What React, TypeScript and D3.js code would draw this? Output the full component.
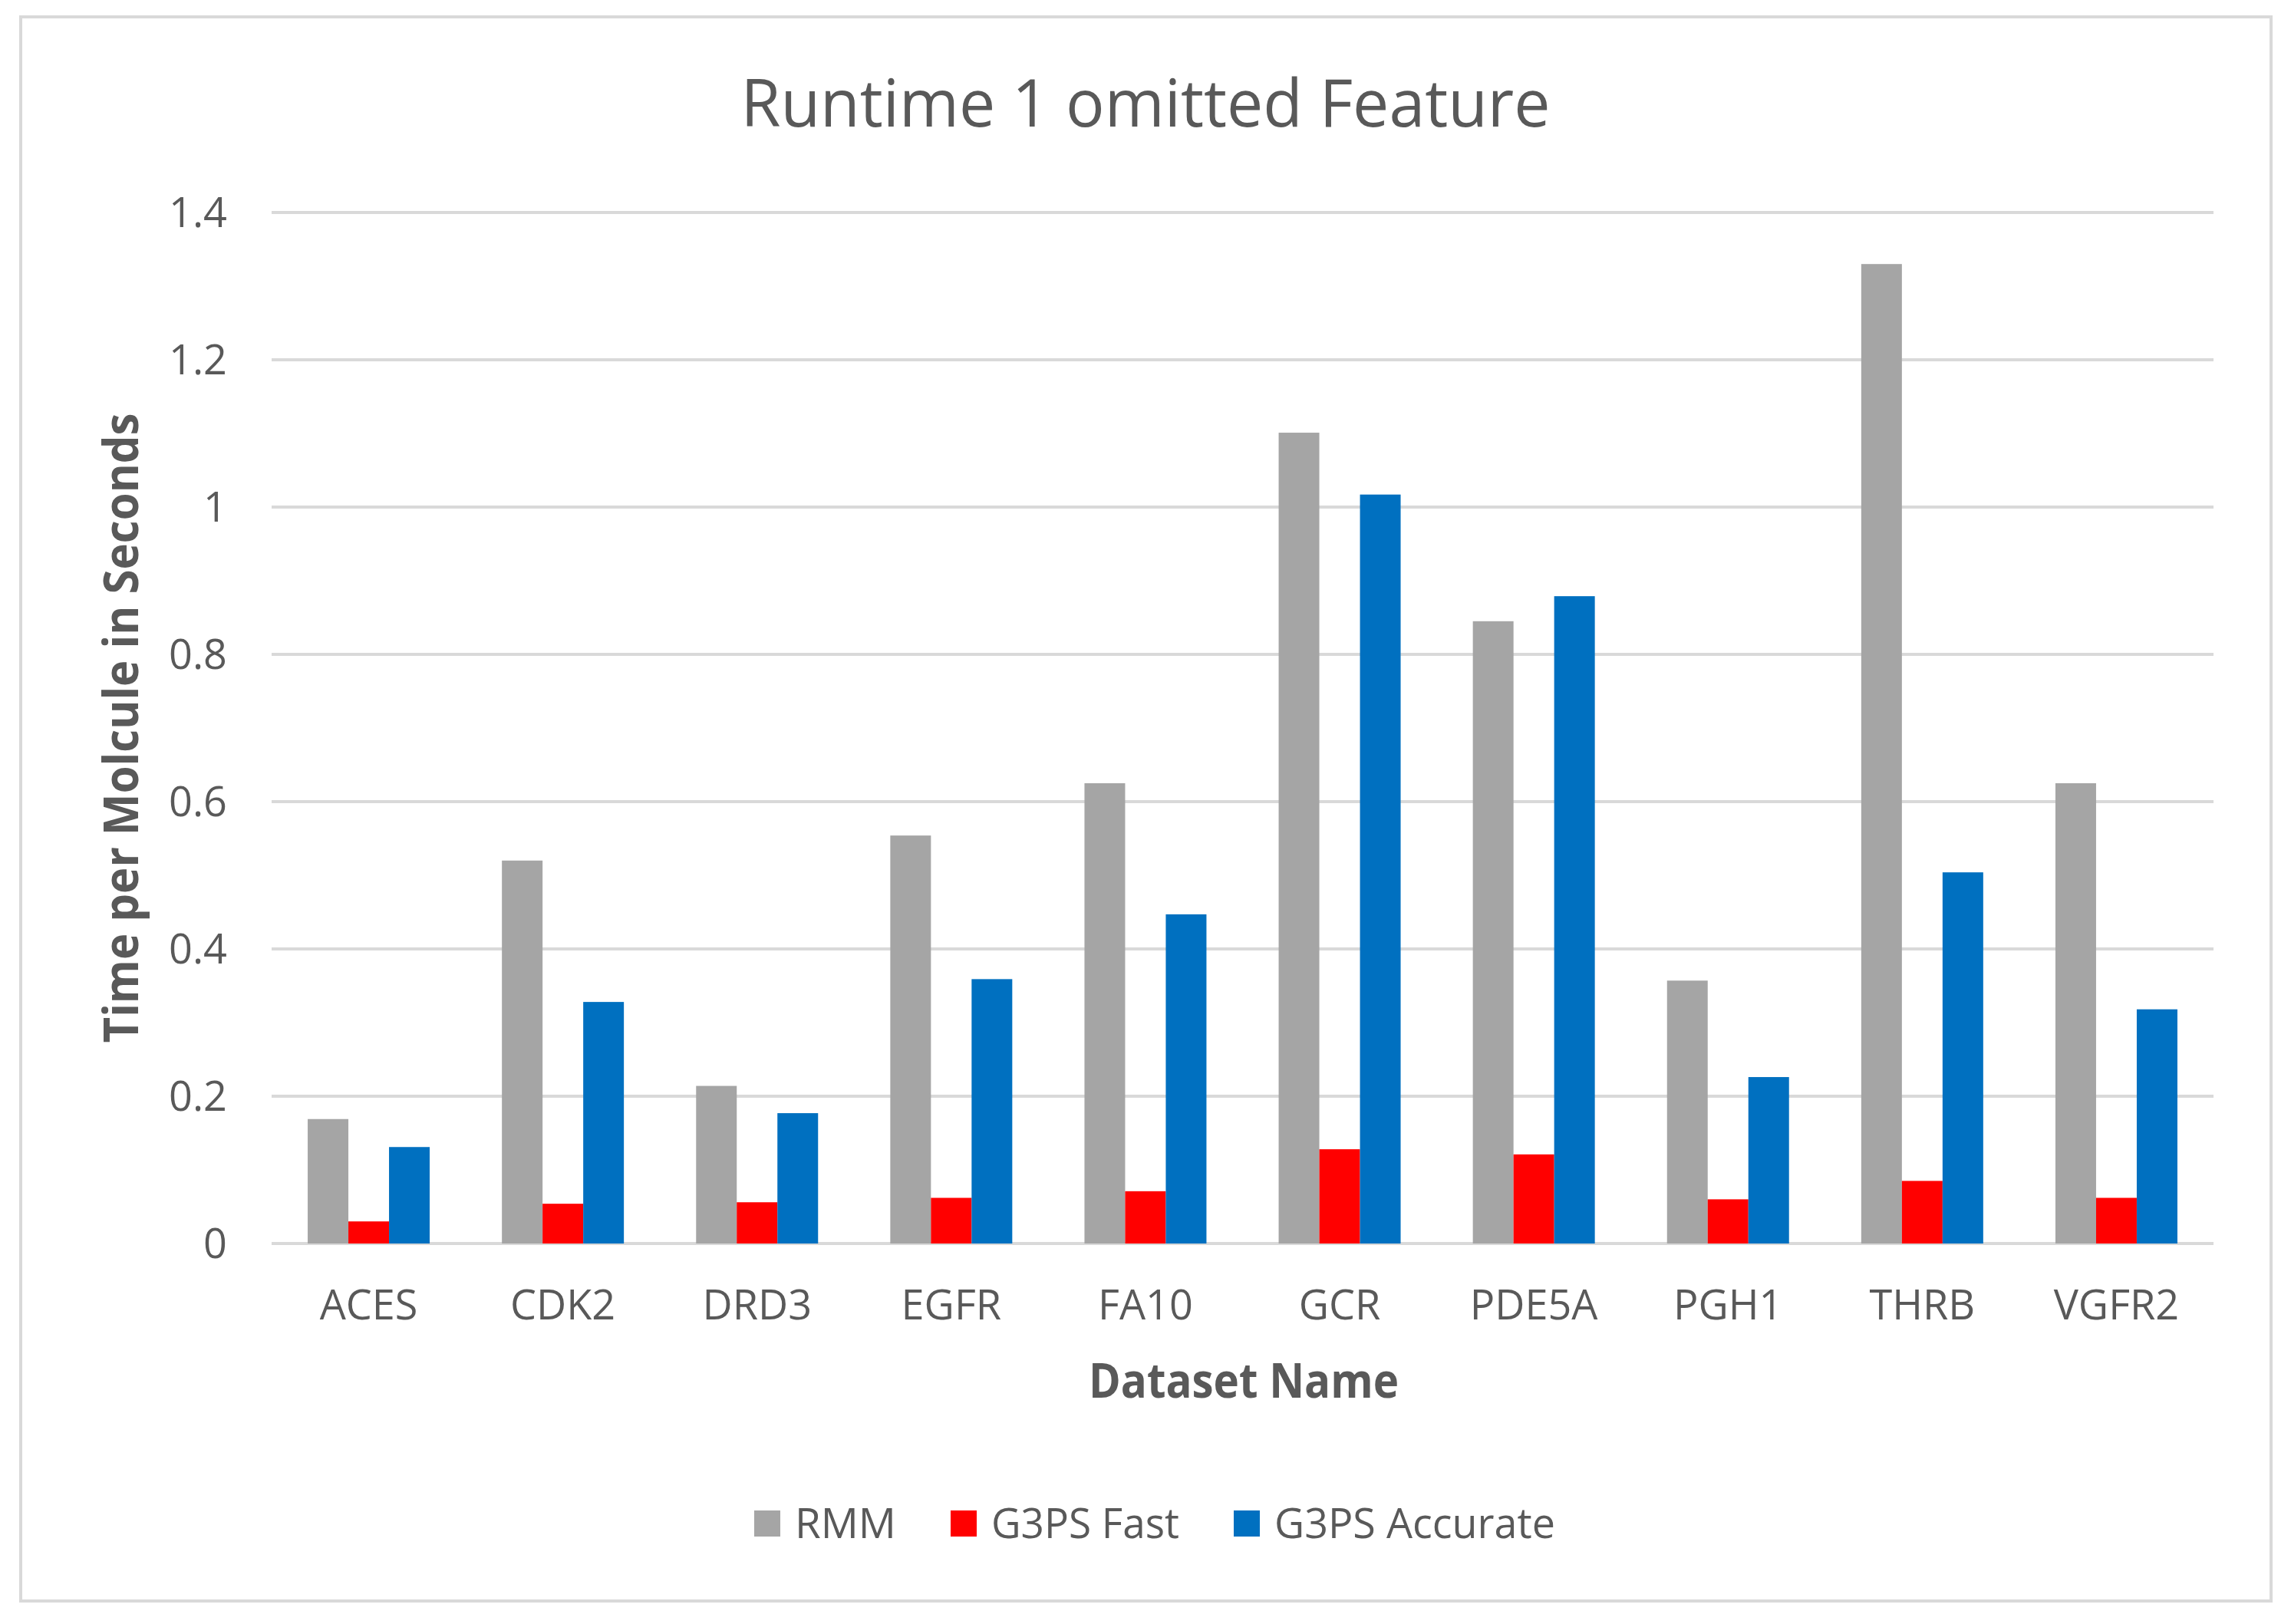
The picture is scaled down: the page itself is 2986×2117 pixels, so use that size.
import React, { useEffect, useRef } from "react";
import * as d3 from "d3";

const categories = ["ACES", "CDK2", "DRD3", "EGFR", "FA10", "GCR", "PDE5A", "PGH1", "THRB", "VGFR2"];
const seriesNames = ["RMM", "G3PS Fast", "G3PS Accurate"];
const rmm = [0.169, 0.52, 0.214, 0.554, 0.625, 1.101, 0.845, 0.357, 1.33, 0.625];
const g3psFast = [0.03, 0.054, 0.056, 0.062, 0.071, 0.128, 0.121, 0.06, 0.085, 0.062];
const g3psAccurate = [0.131, 0.328, 0.177, 0.359, 0.447, 1.017, 0.879, 0.226, 0.504, 0.318];
const yTicks = [0, 0.2, 0.4, 0.6, 0.8, 1, 1.2, 1.4];
const colors = ["#a5a5a5", "#ff0000", "#0070c0"];

const W = 2986;
const H = 2117;
const FONT = "'Open Sans', 'Noto Sans', sans-serif";
const TXT = "#595959";

export default function App() {
  const ref = useRef<SVGSVGElement>(null);
  useEffect(() => {
    const svg = d3.select(ref.current);
    svg.selectAll("*").remove();
    svg.append("rect").attr("x", 0).attr("y", 0).attr("width", W).attr("height", H).attr("fill", "#fff");
    svg.append("rect").attr("x", 27).attr("y", 22).attr("width", 2933).attr("height", 2065)
      .attr("fill", "#fff").attr("stroke", "#d9d9d9").attr("stroke-width", 4);

    const left = 354, right = 2885, top = 277, bottom = 1621;
    const x = d3.scaleBand<string>().domain(categories).range([left, right]).paddingInner(0).paddingOuter(0);
    const xs = d3.scaleBand<string>().domain(seriesNames).range([0, x.bandwidth()]).paddingInner(0).paddingOuter(0.888);
    const y = d3.scaleLinear().domain([0, 1.4]).range([bottom, top]);

    // gridlines
    svg.append("g").selectAll("line").data(yTicks).join("line")
      .attr("x1", left).attr("x2", right)
      .attr("y1", (d) => y(d)).attr("y2", (d) => y(d))
      .attr("stroke", "#d9d9d9").attr("stroke-width", 4);

    // y tick labels
    svg.append("g").selectAll("text").data(yTicks).join("text")
      .attr("x", 296).attr("y", (d) => y(d)).attr("dy", "0.36em")
      .attr("text-anchor", "end").attr("font-family", FONT).attr("font-size", 54).attr("fill", TXT)
      .text((d) => String(+d.toFixed(1)));

    const data = [rmm, g3psFast, g3psAccurate];
    const bars = svg.append("g");
    data.forEach((vals, si) => {
      bars.append("g").selectAll("rect").data(vals).join("rect")
        .attr("x", (_d, i) => (x(categories[i]) as number) + (xs(seriesNames[si]) as number))
        .attr("width", xs.bandwidth())
        .attr("y", (d) => y(d))
        .attr("height", (d) => y(0) - y(d))
        .attr("fill", colors[si]);
    });

    // x labels
    svg.append("g").selectAll("text").data(categories).join("text")
      .attr("x", (d) => (x(d) as number) + x.bandwidth() / 2).attr("y", 1720)
      .attr("text-anchor", "middle").attr("font-family", FONT).attr("font-size", 54).attr("fill", TXT)
      .text((d) => d);

    // title
    svg.append("text").attr("x", 1493).attr("y", 165).attr("text-anchor", "middle")
      .attr("font-family", FONT).attr("font-size", 86).attr("fill", TXT)
      .attr("textLength", 1055).attr("lengthAdjust", "spacingAndGlyphs")
      .text("Runtime 1 omitted Feature");

    // x axis title
    svg.append("text").attr("x", 1621).attr("y", 1822).attr("text-anchor", "middle")
      .attr("font-family", FONT).attr("font-weight", "bold").attr("font-size", 62).attr("fill", TXT)
      .attr("textLength", 404).attr("lengthAdjust", "spacingAndGlyphs")
      .text("Dataset Name");

    // y axis title
    svg.append("text").attr("transform", `translate(180, ${(top + bottom) / 2}) rotate(-90)`)
      .attr("text-anchor", "middle")
      .attr("font-family", FONT).attr("font-weight", "bold").attr("font-size", 63).attr("fill", TXT)
      .attr("textLength", 821).attr("lengthAdjust", "spacingAndGlyphs")
      .text("Time per Molcule in Seconds");

    // legend
    const legendTextLen = [132, 245, 366];
    const sq = 34, gapSqText = 19, gapItem = 71;
    const total = legendTextLen.reduce((a, b) => a + b, 0) + 3 * (sq + gapSqText) + 2 * gapItem;
    let lx = 1505 - total / 2;
    const ly = 1986;
    const lg = svg.append("g");
    seriesNames.forEach((name, i) => {
      lg.append("rect").attr("x", lx).attr("y", ly - sq / 2).attr("width", sq).attr("height", sq).attr("fill", colors[i]);
      lg.append("text").attr("x", lx + sq + gapSqText).attr("y", ly + 19)
        .attr("font-family", FONT).attr("font-size", 54).attr("fill", TXT)
        .attr("textLength", legendTextLen[i]).attr("lengthAdjust", "spacingAndGlyphs")
        .text(name);
      lx += sq + gapSqText + legendTextLen[i] + gapItem;
    });
  }, []);
  return (
    <svg ref={ref} width={W} height={H} style={{ position: "absolute", left: 0, top: 0, display: "block" }} />
  );
}
